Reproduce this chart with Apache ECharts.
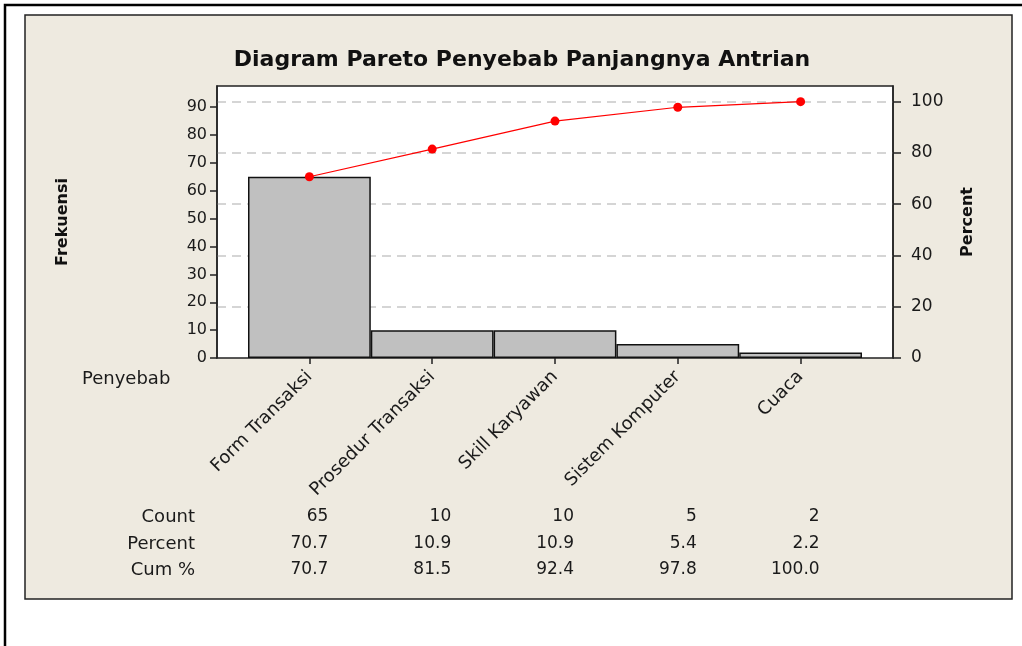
<!DOCTYPE html>
<html>
<head>
<meta charset="utf-8">
<script src="https://cdn.jsdelivr.net/npm/echarts@6/dist/echarts.min.js"></script>
<style>
  html, body { margin: 0; padding: 0; background: #fff; }
  #main { width: 1022px; height: 646px; }
</style>
</head>
<body>
<div id="main"></div>
<script>
// data
var categories = ['Form Transaksi', 'Prosedur Transaksi', 'Skill Karyawan', 'Sistem Komputer', 'Cuaca'];
var counts = [65, 10, 10, 5, 2];
var percents = [70.7, 10.9, 10.9, 5.4, 2.2];
var cumPercents = [70.7, 81.5, 92.4, 97.8, 100.0];
var countTicks = [0, 10, 20, 30, 40, 50, 60, 70, 80, 90];
var percentTicks = [0, 20, 40, 60, 80, 100];
var rowNames = ['Count', 'Percent', 'Cum %'];

var total = 92;          // sum of counts
var pctMax = 106.1;      // top of the plot on the percent scale
var countMax = total * pctMax / 100;

var FONT = 'DejaVu Sans';
var TXT = '#1a1a1a';
var rowY = [517, 544, 570];

// row axis for the table under the chart
function tableRow(offset, values, digits) {
  return {
    gridIndex: 1, type: 'category', data: categories, position: 'bottom', offset: offset,
    axisLine: { show: false }, axisTick: { show: false }, splitLine: { show: false },
    axisLabel: {
      margin: 0, verticalAlign: 'middle', interval: 0,
      formatter: function (v, i) { return '{v|' + values[i].toFixed(digits) + '}'; },
      rich: { v: { width: 38, align: 'right', fontFamily: FONT, fontSize: 17, color: TXT } }
    }
  };
}

var myChart = echarts.init(document.getElementById('main'), null, { renderer: 'canvas' });

var graphics = [
  { type: 'rect', z: -20, shape: { x: 5, y: 5, width: 1100, height: 700 },
    style: { fill: '#ffffff', stroke: '#000', lineWidth: 2.5 } },
  { type: 'rect', z: -10, shape: { x: 25, y: 15, width: 987, height: 584 },
    style: { fill: '#eeeae0', stroke: '#222', lineWidth: 1.5 } },
  { type: 'text', left: 82, top: 370,
    style: { text: 'Penyebab', font: '18px "DejaVu Sans"', fill: TXT } }
];
rowNames.forEach(function (n, i) {
  graphics.push({ type: 'text', x: 195, y: rowY[i],
    style: { text: n, font: '18px "DejaVu Sans"', fill: TXT, align: 'right', verticalAlign: 'middle' } });
});

var option = {
  animation: false,
  backgroundColor: '#ffffff',
  graphic: graphics,
  title: {
    text: 'Diagram Pareto Penyebab Panjangnya Antrian',
    left: 517, top: 44, textAlign: 'center',
    textStyle: { fontFamily: FONT, fontSize: 22, fontWeight: 'bold', color: '#111' }
  },
  grid: [
    // frame of the plot
    { left: 217, right: 129, top: 86, bottom: 288, show: true,
      backgroundColor: '#ffffff', borderColor: '#222', borderWidth: 1.5 },
    // bars area
    { left: 248, right: 160, top: 86, bottom: 288 }
  ],
  xAxis: [
    { gridIndex: 0, type: 'value', min: 0, max: 1, show: false },
    {
      gridIndex: 1, type: 'category', data: categories, boundaryGap: true,
      axisLine: { show: false },
      axisTick: { show: true, alignWithLabel: true, length: 6, lineStyle: { color: '#222', width: 1.5 } },
      axisLabel: { rotate: 45, margin: 16, interval: 0, fontFamily: FONT, fontSize: 18, color: TXT }
    },
    tableRow(rowY[0] - 358, counts, 0),
    tableRow(rowY[1] - 358, percents, 1),
    tableRow(rowY[2] - 358, cumPercents, 1)
  ],
  yAxis: [
    {
      gridIndex: 0, type: 'value', min: 0, max: countMax, interval: 10,
      name: 'Frekuensi', nameLocation: 'middle', nameGap: 146, nameRotate: 90,
      nameTextStyle: { fontFamily: FONT, fontSize: 16, fontWeight: 'bold', color: '#111' },
      axisLine: { show: true, lineStyle: { color: '#222', width: 1.5 } },
      axisTick: { show: true, length: 7, customValues: countTicks, lineStyle: { color: '#222', width: 1.5 } },
      axisLabel: { margin: 10, customValues: countTicks, fontFamily: FONT, fontSize: 16, color: TXT },
      splitLine: { show: false }
    },
    {
      gridIndex: 0, type: 'value', position: 'right', min: 0, max: pctMax, interval: 20,
      name: 'Percent', nameLocation: 'middle', nameGap: 67, nameRotate: 90,
      nameTextStyle: { fontFamily: FONT, fontSize: 16, fontWeight: 'bold', color: '#111' },
      axisLine: { show: true, lineStyle: { color: '#222', width: 1.5 } },
      axisTick: { show: true, length: 8, customValues: percentTicks, lineStyle: { color: '#222', width: 1.5 } },
      axisLabel: { margin: 18, customValues: percentTicks, fontFamily: FONT, fontSize: 17, color: TXT },
      splitLine: { show: true, showMinLine: false,
        lineStyle: { color: '#c8c8c8', type: [9, 6], width: 1.5 } }
    },
    { gridIndex: 1, type: 'value', min: 0, max: countMax, show: false },
    { gridIndex: 1, type: 'value', min: 0, max: pctMax, show: false }
  ],
  series: [
    {
      type: 'bar', xAxisIndex: 1, yAxisIndex: 2, data: counts,
      barCategoryGap: '0%',
      itemStyle: { color: '#c0c0c0', borderColor: '#111', borderWidth: 1.5 }
    },
    {
      type: 'line', xAxisIndex: 1, yAxisIndex: 3, data: cumPercents,
      symbol: 'circle', symbolSize: 9,
      itemStyle: { color: '#ff0000' },
      lineStyle: { color: '#ff0000', width: 1.2 }
    }
  ]
};

myChart.setOption(option);
</script>
</body>
</html>
